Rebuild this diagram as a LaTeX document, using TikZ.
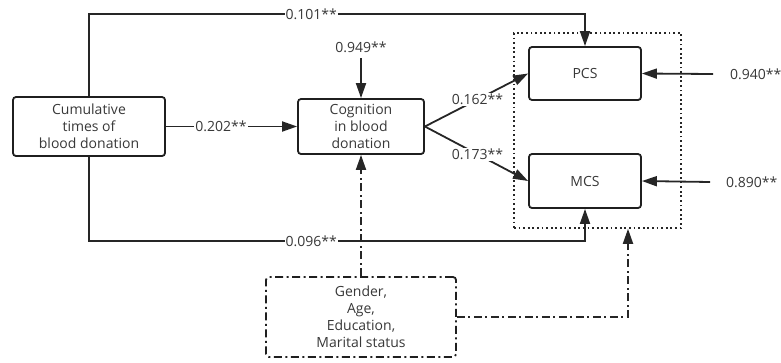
\documentclass[tikz,border=0pt]{standalone}
\usepackage{fontspec}
\setmainfont{Open Sans}
\usetikzlibrary{arrows.meta}
\begin{document}
\begin{tikzpicture}[x=1pt,y=-1pt,
  font=\fontsize{14}{17}\selectfont, text=black!78,
  box/.style={draw=black!88, line width=1.8pt, rounded corners=3pt, align=center, inner sep=0pt},
  conn/.style={line width=1.8pt, draw=black!85},
  arr/.style={conn, -{Triangle[length=15pt,width=10pt]}},
  lbl/.style={fill=white, inner sep=1pt},
  dashdot/.style={dash pattern=on 8pt off 3.5pt on 2pt off 3.5pt}]
\useasboundingbox (0,0) rectangle (781,362);

\node[box, minimum width=152pt, minimum height=59pt] (cum) at (89,126.5) {Cumulative\\times of\\blood donation};
\node[box, minimum width=126pt, minimum height=55pt] (cog) at (361,126.5) {Cognition\\in blood\\donation};
\node[box, minimum width=112pt, minimum height=53pt] (pcs) at (585,73.5) {PCS};
\node[box, minimum width=112pt, minimum height=54pt] (mcs) at (585,181) {MCS};
\node[draw=black!85, line width=1.6pt, dash pattern=on 1.8pt off 2.8pt, minimum width=167pt, minimum height=195pt, inner sep=0pt] (grp) at (597.5,130.5) {};
\node[box, dashdot, minimum width=190pt, minimum height=80pt] (ctrl) at (361,317) {Gender,\\Age,\\Education,\\Marital status};

% labels with free ends
\node[inner sep=1pt] (l949) at (361,47) {0.949**};
\node[inner sep=1pt, anchor=west] (l940) at (729,74) {0.940**};
\node[inner sep=1pt, anchor=west] (l890) at (725,182) {0.890**};
\coordinate (e949) at (361,58);
\coordinate (e940) at (713,74);
\coordinate (e890) at (710,182);

% top and bottom paths
\coordinate (t1) at (89,14);
\coordinate (t2) at (585,14);
\coordinate (b1) at (89,241);
\coordinate (b2) at (585,241);
\draw[arr] (cum.north) -- (t1) -- node[lbl, pos=0.448]{0.101**} (t2) -- (pcs.north);
\draw[arr] (cum.south) -- (b1) -- node[lbl, pos=0.448]{0.096**} (b2) -- (mcs.south);

\draw[arr] (cum.east) -- node[lbl, pos=0.42]{0.202**} (cog.west);
\draw[arr] (e949) -- (cog.north);
\draw[arr] (cog.east) -- node[lbl, pos=0.51]{0.162**} (pcs.west);
\draw[arr] (cog.east) -- node[lbl, pos=0.51]{0.173**} (mcs.west);
\draw[arr] (e940) -- (pcs.east);
\draw[arr] (e890) -- (mcs.east);

% control paths
\coordinate (c1) at (628,317);
\draw[arr, dashdot] (ctrl.north) -- (cog.south);
\draw[arr, dashdot] (ctrl.east) -- (c1) -- (c1 |- grp.south);
\end{tikzpicture}
\end{document}
